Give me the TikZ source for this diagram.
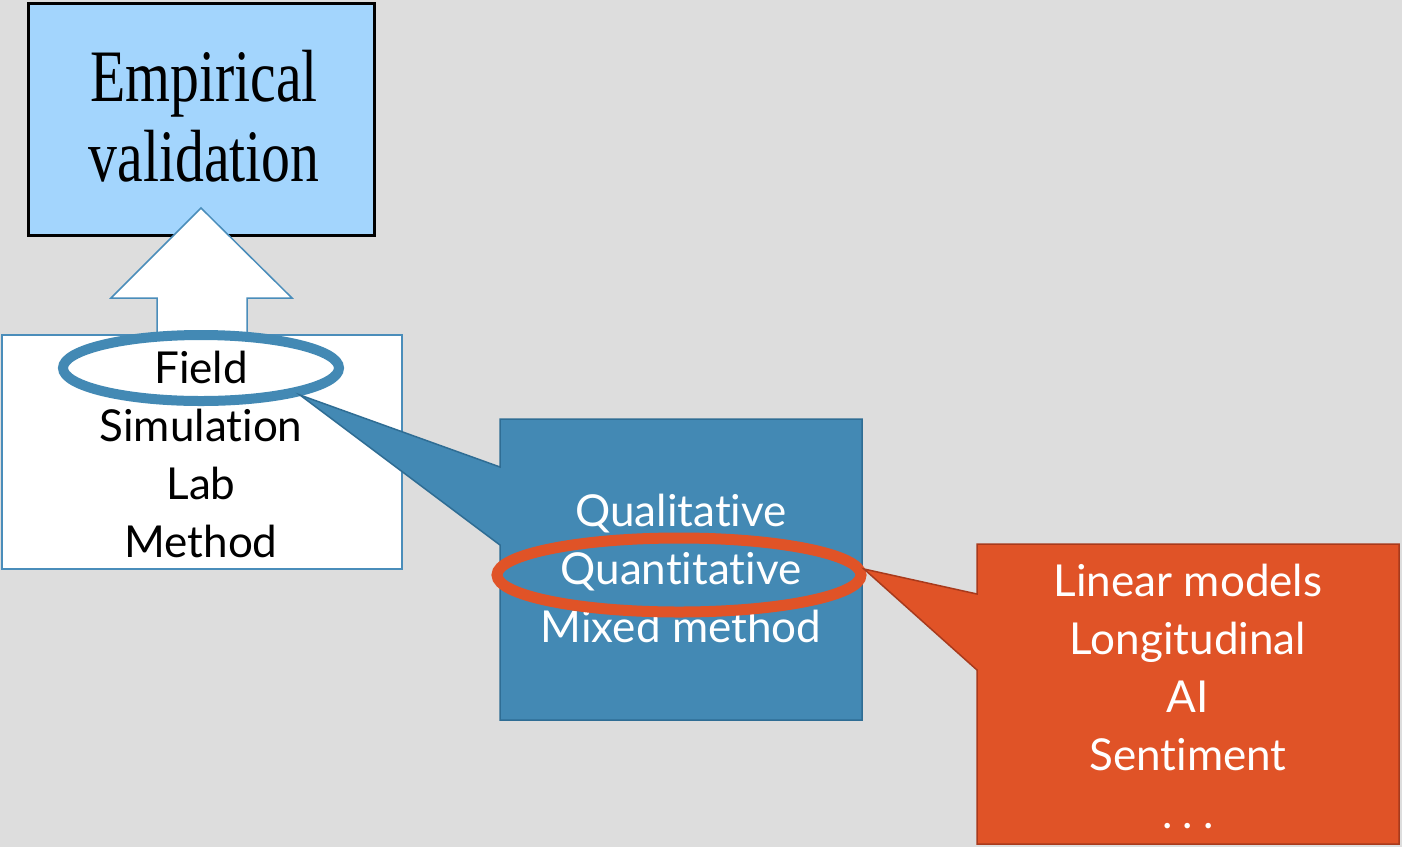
\documentclass[tikz,border=0pt]{standalone}
\usepackage{fontspec}
\setmainfont{Lato}[Ligatures={NoCommon}]
\newfontfamily\timesf{Liberation Serif}
\usetikzlibrary{shapes.geometric}
\definecolor{bg}{HTML}{DDDDDD}
\definecolor{lightblue}{HTML}{A3D5FD}
\definecolor{midblue}{HTML}{4389B4}
\definecolor{darkblue}{HTML}{2F6D94}
\definecolor{edgeblue}{HTML}{4A8DBA}
\definecolor{orng}{HTML}{E05327}
\definecolor{darkorng}{HTML}{A83A1C}
\tikzset{
  gill/.style={font=\fontsize{22}{29}\selectfont, align=center, inner sep=0pt},
  ring/.style={ellipse, draw, inner sep=0pt},
}
\begin{document}
\begin{tikzpicture}[x=0.5pt,y=-0.5pt]
\fill[bg] (0,0) rectangle (1402,847);
\useasboundingbox (0,0) rectangle (1402,847);
% empirical validation box
\draw[black, line width=1.5pt, fill=lightblue] (28.5,3.5) rectangle (374.5,235.5);
\node[font=\timesf\fontsize{37}{40}\selectfont, align=center, inner sep=0pt] (emp) at (204,116)
  {\scalebox{0.78}[1]{Empirical}\\\scalebox{0.78}[1]{validation}};
% block arrow
\draw[edgeblue, line width=0.75pt, fill=white, line join=miter]
  (157,340) -- (157,298) -- (111,298) -- (201,208) -- (292,298) -- (247,298) -- (247,340);
% methods box
\draw[edgeblue, line width=0.75pt, fill=white] (2,335) rectangle (402,569);
\node[gill, text=black] (methods) at (201,454) {Field\\Simulation\\Lab\\Method};
\node[ring, draw=midblue, line width=5pt, minimum width=276*0.5pt, minimum height=66*0.5pt] (fieldring) at (201,368) {};
% blue callout
\coordinate (tipA) at (300,395);
\draw[fill=midblue, draw=darkblue, line width=0.75pt]
  (500,419) -- (862,419) -- (862,720) -- (500,720) -- (500,545) -- (tipA) -- (500,467) -- cycle;
\node[gill, text=white] (approach) at (681,568) {Qualitative\\Quantitative\\Mixed method};
\node[ring, draw=orng, line width=5.5pt, minimum width=364*0.5pt, minimum height=74*0.5pt] (quantring) at (679,575) {};
% orange callout
\coordinate (tipB) at (864,569);
\draw[fill=orng, draw=darkorng, line width=0.75pt]
  (977,544) -- (1399,544) -- (1399,844) -- (977,844) -- (977,670) -- (tipB) -- (977,594) -- cycle;
\node[gill, text=white] (techniques) at (1188,696) {Linear models\\Longitudinal\\AI\\Sentiment\\.\hspace{5pt}.\hspace{5pt}.};
\end{tikzpicture}
\end{document}
